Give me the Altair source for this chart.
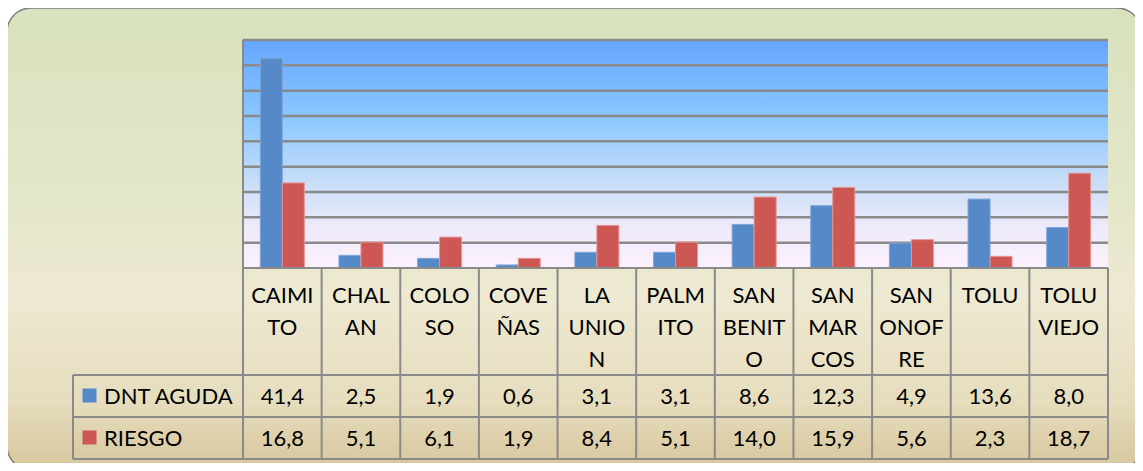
import altair as alt
import pandas as pd

categories = ["CAIMITO", "CHALAN", "COLOSO", "COVEÑAS", "LA UNION", "PALMITO",
              "SAN BENITO", "SAN MARCOS", "SAN ONOFRE", "TOLU", "TOLUVIEJO"]
header_labels = ["CAIMI\nTO", "CHAL\nAN", "COLO\nSO", "COVE\nÑAS", "LA\nUNIO\nN",
                 "PALM\nITO", "SAN\nBENIT\nO", "SAN\nMAR\nCOS", "SAN\nONOF\nRE",
                 "TOLU", "TOLU\nVIEJO"]
dnt_aguda = [41.4, 2.5, 1.9, 0.6, 3.1, 3.1, 8.6, 12.3, 4.9, 13.6, 8.0]
riesgo = [16.8, 5.1, 6.1, 1.9, 8.4, 5.1, 14.0, 15.9, 5.6, 2.3, 18.7]
series_names = ["DNT AGUDA", "RIESGO"]
series_colors = ["#5589C8", "#CD5753"]
grid_values = [5, 10, 15, 20, 25, 30, 35, 40, 45]

def fmt(v):
    return f"{v:.1f}".replace(".", ",")

df = pd.DataFrame({
    "cat": categories,
    "header": header_labels,
    "dnt": dnt_aguda,
    "riesgo": riesgo,
    "dnt_lbl": [fmt(v) for v in dnt_aguda],
    "riesgo_lbl": [fmt(v) for v in riesgo],
})

W, H = 1127, 455
PX0, PX1 = 235, 1100     # plot area x
PY0, PY1 = 32, 260       # plot area y (top, bottom)
ROW1, ROW2, ROW3 = 367, 409, 451
LEG_X = 65
FONT = "Lato"
FS = 22
GRID = "#8A8A8A"

xs = alt.X("cat:N", sort=categories,
           scale=alt.Scale(domain=categories, range=[PX0, PX1], paddingInner=0, paddingOuter=0),
           axis=None)
yscale = alt.Scale(domain=[0, 45], range=[PY1, PY0], nice=False, zero=True)

one = alt.Data(values=[{"a": 1}])

panel = alt.Chart(one).mark_rect(
    fill=alt.LinearGradient(gradient="linear", x1=0, y1=0, x2=0, y2=1, stops=[
        alt.GradientStop(color="#D8E2BE", offset=0),
        alt.GradientStop(color="#E3E6C8", offset=0.4),
        alt.GradientStop(color="#EEE9D2", offset=0.62),
        alt.GradientStop(color="#E6DDBE", offset=0.85),
        alt.GradientStop(color="#D6C69C", offset=1)]),
    stroke="#7F7F7F", strokeWidth=1.5, cornerRadius=24
).encode(x=alt.value(-1), x2=alt.value(1133), y=alt.value(0), y2=alt.value(462))

plotbg = alt.Chart(one).mark_rect(
    fill=alt.LinearGradient(gradient="linear", x1=0, y1=0, x2=0, y2=1, stops=[
        alt.GradientStop(color="#64A6FF", offset=0),
        alt.GradientStop(color="#8CC8FF", offset=0.35),
        alt.GradientStop(color="#C8DDF8", offset=0.62),
        alt.GradientStop(color="#EDEAFA", offset=0.82),
        alt.GradientStop(color="#FDF1FD", offset=1)])
).encode(x=alt.value(PX0), x2=alt.value(PX1), y=alt.value(PY0), y2=alt.value(PY1))

grid_df = pd.DataFrame({"g": grid_values})
grid = alt.Chart(grid_df).mark_rule(color=GRID, strokeWidth=2.5).encode(
    y=alt.Y("g:Q", scale=yscale, axis=None),
    x=alt.value(PX0), x2=alt.value(PX1))

bars_dnt = alt.Chart(df).mark_bar(width=22, xOffset=-11, color=series_colors[0],
                                  stroke="#7EA6D8", strokeWidth=1).encode(
    x=xs, y=alt.Y("dnt:Q", scale=yscale, axis=None))
bars_rie = alt.Chart(df).mark_bar(width=22, xOffset=11, color=series_colors[1],
                                  stroke="#E39593", strokeWidth=1).encode(
    x=xs, y=alt.Y("riesgo:Q", scale=yscale, axis=None))

# table lines
col_lines = alt.Chart(df).mark_rule(color=GRID, strokeWidth=2).encode(
    x=alt.X("cat:N", sort=categories, bandPosition=0,
            scale=alt.Scale(domain=categories, range=[PX0, PX1], paddingInner=0, paddingOuter=0),
            axis=None),
    y=alt.value(PY1), y2=alt.value(ROW3))
edge_lines = alt.Chart(alt.Data(values=[
    {"x": PX0, "x2": PX0, "y": PY0, "y2": ROW3},
    {"x": PX1, "x2": PX1, "y": PY1, "y2": ROW3},
    {"x": LEG_X, "x2": LEG_X, "y": ROW1, "y2": ROW3},
    {"x": PX0, "x2": PX1, "y": PY1, "y2": PY1},
    {"x": PX0, "x2": PX1, "y": PY0, "y2": PY0},
    {"x": LEG_X, "x2": PX1, "y": ROW1, "y2": ROW1},
    {"x": LEG_X, "x2": PX1, "y": ROW2, "y2": ROW2},
    {"x": LEG_X, "x2": PX1, "y": ROW3, "y2": ROW3},
])).mark_rule(color=GRID, strokeWidth=2).encode(
    x=alt.X("x:Q", scale=None), x2="x2:Q", y=alt.Y("y:Q", scale=None), y2="y2:Q")

header_text = alt.Chart(df).mark_text(font=FONT, fontSize=FS, baseline="alphabetic",
                                      lineBreak="\n", lineHeight=32, color="#000000").encode(
    x=alt.X("cat:N", sort=categories, bandPosition=0.5,
            scale=alt.Scale(domain=categories, range=[PX0, PX1], paddingInner=0, paddingOuter=0),
            axis=None),
    y=alt.value(295), text="header:N")

def vals(field, yv):
    return alt.Chart(df).mark_text(font=FONT, fontSize=FS, baseline="alphabetic",
                                   color="#000000").encode(
        x=alt.X("cat:N", sort=categories, bandPosition=0.5,
                scale=alt.Scale(domain=categories, range=[PX0, PX1], paddingInner=0, paddingOuter=0),
                axis=None),
        y=alt.value(yv), text=f"{field}:N")

dnt_text = vals("dnt_lbl", 396)
rie_text = vals("riesgo_lbl", 438)

leg_df = pd.DataFrame({"name": series_names, "color": series_colors,
                       "ypos": [387.5, 429.5], "tpos": [396, 438]})
leg_sq = alt.Chart(leg_df).mark_square(size=196, opacity=1).encode(
    x=alt.value(81.5), y=alt.Y("ypos:Q", scale=None),
    color=alt.Color("color:N", scale=None))
leg_txt = alt.Chart(leg_df).mark_text(font=FONT, fontSize=FS, align="left",
                                      baseline="alphabetic", color="#000000").encode(
    x=alt.value(96), y=alt.Y("tpos:Q", scale=None), text="name:N")

chart = alt.layer(
    panel, plotbg, grid, bars_dnt, bars_rie, col_lines, edge_lines,
    header_text, dnt_text, rie_text, leg_sq, leg_txt
).properties(
    width=W, height=H, padding=0,
    autosize=alt.AutoSizeParams(type="none")
).configure_view(stroke=None)

chart.save("out.html", embed_options={"renderer": "svg", "actions": False})
